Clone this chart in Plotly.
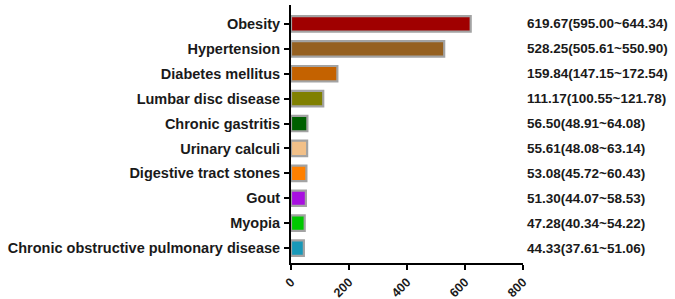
import plotly.graph_objects as go

categories = ["Obesity", "Hypertension", "Diabetes mellitus", "Lumbar disc disease",
              "Chronic gastritis", "Urinary calculi", "Digestive tract stones", "Gout",
              "Myopia", "Chronic obstructive pulmonary disease"]
values = [619.67, 528.25, 159.84, 111.17, 56.50, 55.61, 53.08, 51.30, 47.28, 44.33]
lower = [595.00, 505.61, 147.15, 100.55, 48.91, 48.08, 45.72, 44.07, 40.34, 37.61]
upper = [644.34, 550.90, 172.54, 121.78, 64.08, 63.14, 60.43, 58.53, 54.22, 51.06]
colors = ["#a00000", "#956020", "#c46200", "#808000", "#006000",
          "#f2c088", "#ff8000", "#a810e0", "#00c800", "#1898b8"]
xticks = [0, 200, 400, 600, 800]

FONT = "Arial, Liberation Sans, sans-serif"

fig = go.Figure()
fig.add_trace(go.Bar(
    y=categories, x=values, orientation="h",
    marker=dict(color=colors, line=dict(color="#a3a3a3", width=2.2)),
    width=0.62,
))

for c, v, lo, hi in zip(categories, values, lower, upper):
    fig.add_annotation(
        x=1.01, xref="paper", y=c, yref="y",
        text=f"<b>{v:.2f}({lo:.2f}~{hi:.2f})</b>",
        showarrow=False, xanchor="left",
        font=dict(family=FONT, size=13.5, color="#1a1a1a"),
    )

fig.update_layout(
    width=675, height=299,
    margin=dict(l=291, r=152, t=5, b=36, autoexpand=False),
    paper_bgcolor="white", plot_bgcolor="white",
    showlegend=False,
    font=dict(family=FONT, color="#1a1a1a"),
)
fig.update_yaxes(
    categoryorder="array", categoryarray=categories[::-1],
    range=[-0.6, 9.76], automargin=False,
    showline=True, linecolor="black", linewidth=2,
    ticks="outside", ticklen=5, tickwidth=2, tickcolor="black",
    tickfont=dict(family=FONT, size=14.5, color="#1a1a1a"),
    ticklabelstandoff=1,
    showgrid=False, zeroline=False,
    tickprefix="<b>", ticksuffix="</b>",
)
fig.update_xaxes(
    range=[0, 800], tickvals=xticks, ticktext=[f"<b>{t}</b>" for t in xticks],
    tickangle=-45, automargin=False,
    showline=True, linecolor="black", linewidth=2,
    ticks="outside", ticklen=5, tickwidth=2, tickcolor="black",
    tickfont=dict(family=FONT, size=12.5, color="#1a1a1a"),
    showgrid=False, zeroline=False,
)

fig.write_html("out.html", config={"displayModeBar": False},
               post_script="document.body.style.margin='0';document.body.style.overflow='hidden';")
